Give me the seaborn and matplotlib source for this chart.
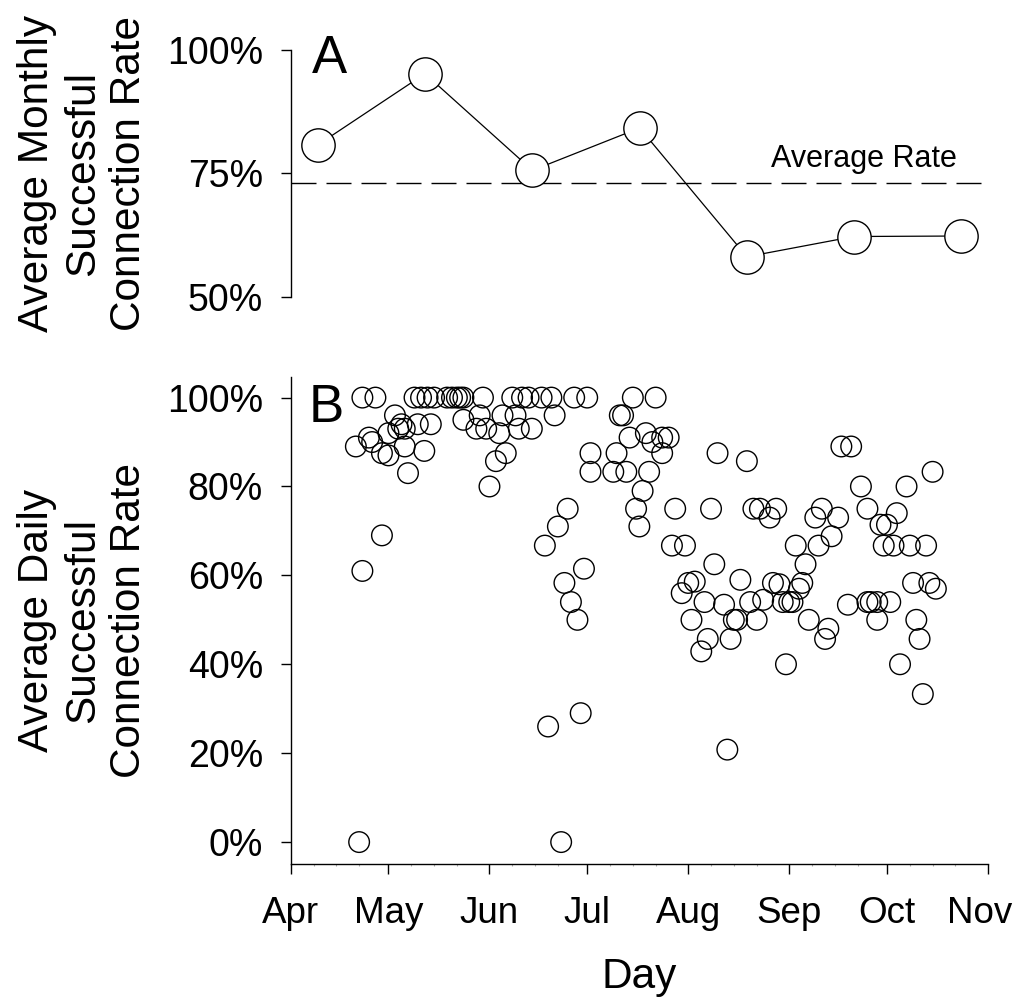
import numpy as np
import pandas as pd
import matplotlib
matplotlib.use("Agg")
import matplotlib.pyplot as plt
import matplotlib.dates as mdates
import matplotlib.transforms as mtransforms
from matplotlib.ticker import FuncFormatter, FixedLocator
import seaborn as sns

# ---------------- data ----------------
# days counted from 1 April
monthly_day = [8.4, 41.2, 74.2, 107.1, 140.0, 172.9, 205.7]
monthly_rate = [80.8, 95.2, 75.6, 84.2, 58.1, 62.2, 62.3]
average_rate = 73.1

daily_day = [20, 22, 26, 24, 25, 28, 30, 30, 32, 34, 33, 35, 35, 36, 39, 41, 43, 38, 40, 42,
             44, 28, 22, 21, 48, 49.5, 51, 52, 53, 59, 68, 71, 73, 77, 80, 87, 91, 53, 58, 57,
             60, 64, 65, 69, 70, 74, 81, 66, 63, 61, 85, 82, 78, 90, 84, 86, 88, 89, 79, 83,
             92, 100, 92, 99, 103, 105, 112, 101, 102, 104, 109, 111, 114, 116, 114, 110, 108, 106, 107, 118,
             129, 131, 140, 142, 144, 149, 147, 117, 121, 130, 122, 124, 120, 138, 148, 150, 155, 158, 169, 172,
             175, 189, 197, 177, 186, 181, 183, 163, 161, 168, 166, 162, 182, 185, 190, 195, 191, 196, 198, 157,
             156, 127, 133, 141, 145, 151, 153, 154, 123, 136, 137, 143, 159, 165, 164, 128, 135, 126, 152, 134,
             171, 177, 178, 180, 184, 180, 192, 193, 187, 194]
daily_rate = [89, 100, 100, 91, 90, 87.5, 87, 92, 96, 94, 93, 93, 89, 83, 94, 88, 94, 100, 100, 100,
              100, 69, 61, 0, 100, 100, 100, 100, 100, 100, 100, 100, 100, 100, 100, 100, 100, 95, 96, 93,
              93, 92, 96, 96, 93, 93, 96, 87.5, 85.7, 80, 75, 71, 66.7, 61.5, 58.3, 54, 50, 29, 26, 0,
              87.5, 87.5, 83.3, 83.3, 83.3, 100, 100, 96, 96, 91, 92, 90, 91, 91, 87.5, 83.3, 79, 75, 71, 75,
              75, 87.5, 85.7, 75, 75, 75, 73, 66.7, 66.7, 62.5, 58.3, 58.6, 56, 59, 58.3, 58, 66.7, 62.5, 89, 89,
              80, 80, 83.3, 75, 74, 71.4, 71.4, 75, 73, 73, 68.8, 66.7, 66.7, 66.7, 66.7, 66.7, 58.3, 58.3, 57, 58.3,
              57, 54, 53.4, 54, 54.5, 54, 54, 54, 50, 50, 50, 50, 50, 48, 45.7, 45.7, 45.7, 42.9, 40, 20.8,
              53.4, 54, 54, 54, 54, 50, 50, 45.7, 40, 33.3]

month_ticks = ["2013-04-01", "2013-05-01", "2013-06-01", "2013-07-01",
               "2013-08-01", "2013-09-01", "2013-10-01", "2013-11-01"]
month_labels = ["Apr", "May", "Jun", "Jul", "Aug", "Sep", "Oct", "Nov"]
ticks_a = [50, 75, 100]
ticks_b = [0, 20, 40, 60, 80, 100]

# ---------------- build frames ----------------
start = pd.Timestamp("2013-04-01")
monthly = pd.DataFrame({
    "date": start + pd.to_timedelta(monthly_day, unit="D"),
    "rate": monthly_rate,
})
daily = pd.DataFrame({
    "date": start + pd.to_timedelta(daily_day, unit="D"),
    "rate": daily_rate,
})
tick_dates = pd.to_datetime(month_ticks)

# ---------------- style ----------------
sns.set_theme(style="ticks")
plt.rcParams["font.family"] = ["Liberation Sans", "DejaVu Sans"]
plt.rcParams["axes.linewidth"] = 1.0
plt.rcParams["text.color"] = "black"
plt.rcParams["axes.labelcolor"] = "black"
plt.rcParams["xtick.color"] = "black"
plt.rcParams["ytick.color"] = "black"
plt.rcParams["axes.edgecolor"] = "black"

W, H = 1017, 1001
fig = plt.figure(figsize=(W / 100, H / 100), dpi=100)

left_px, right_px = 290.7, 988.0
a_top, a_bot = 50.0, 296.7
b_top, b_bot = 376.7, 864.3
axA = fig.add_axes([left_px / W, 1 - a_bot / H, (right_px - left_px) / W, (a_bot - a_top) / H])
axB = fig.add_axes([left_px / W, 1 - b_bot / H, (right_px - left_px) / W, (b_bot - b_top) / H])

xmin, xmax = tick_dates[0], tick_dates[-1]

# ---------------- panel A ----------------
axA.axhline(average_rate, color="black", lw=1.0, dashes=(18, 7.2), zorder=1)
sns.lineplot(data=monthly, x="date", y="rate", ax=axA, color="black", lw=0.9,
             marker="o", markersize=24, markerfacecolor="white",
             markeredgecolor="black", markeredgewidth=1.0, zorder=3, clip_on=False)
axA.set_xlim(xmin, xmax)
axA.set_ylim(50, 100)
axA.yaxis.set_major_locator(FixedLocator(ticks_a))
axA.yaxis.set_major_formatter(FuncFormatter(lambda v, p: f"{int(v)}%"))
for s in ["top", "right", "bottom"]:
    axA.spines[s].set_visible(False)
axA.set_xticks([])
axA.set_xlabel("")
axA.set_ylabel("Average Monthly\nSuccessful\nConnection Rate", fontsize=30.5,
               linespacing=1.2, color="black")
axA.yaxis.set_label_coords(-0.203, 0.5)
axA.tick_params(axis="y", direction="out", length=7, width=1.0, pad=13,
                labelsize=27, color="black", labelcolor="black")
axA.text(0.030, 0.907, "A", transform=axA.transAxes, fontsize=38,
         ha="left", va="baseline", color="black")
axA.text(0.9556, 0.527, "Average Rate", transform=axA.transAxes, fontsize=22,
         ha="right", va="baseline", color="black")

# ---------------- panel B ----------------
sns.scatterplot(data=daily, x="date", y="rate", ax=axB, s=220, marker="o",
                facecolor="none", edgecolor="black", linewidth=1.0, zorder=3,
                clip_on=False)
for coll in axB.collections:
    coll.set_facecolor("none")
    coll.set_edgecolor("black")
axB.set_xlim(xmin, xmax)
axB.set_ylim(-5, 104.7)
axB.yaxis.set_major_locator(FixedLocator(ticks_b))
axB.yaxis.set_major_formatter(FuncFormatter(lambda v, p: f"{int(v)}%"))
axB.set_xticks(tick_dates)
axB.set_xticklabels(month_labels)
axB.xaxis.set_minor_locator(mdates.DayLocator(bymonthday=[8, 15, 22]))
for s in ["top", "right"]:
    axB.spines[s].set_visible(False)
axB.tick_params(axis="both", which="major", direction="out", length=7, width=1.0,
                labelsize=27, color="black", labelcolor="black")
axB.tick_params(axis="y", which="major", pad=13)
axB.tick_params(axis="x", which="major", pad=16, labelsize=26.5)
axB.tick_params(axis="x", which="minor", direction="out", length=1.5, width=0.8,
                color="#aaaaaa")
# keep the last month label inside the canvas
last = axB.get_xticklabels()[-1]
last.set_transform(last.get_transform() +
                   mtransforms.ScaledTranslation(-8 / 100, 0, fig.dpi_scale_trans))
axB.set_ylabel("Average Daily\nSuccessful\nConnection Rate", fontsize=30.5,
               linespacing=1.2, color="black")
axB.yaxis.set_label_coords(-0.203, 0.5)
axB.set_xlabel("Day", fontsize=30.5, color="black")
axB.xaxis.set_label_coords(0.5, -0.19)
axB.text(0.026, 0.907, "B", transform=axB.transAxes, fontsize=38,
         ha="left", va="baseline", color="black")

fig.savefig("out.png", dpi=100, facecolor="white")
